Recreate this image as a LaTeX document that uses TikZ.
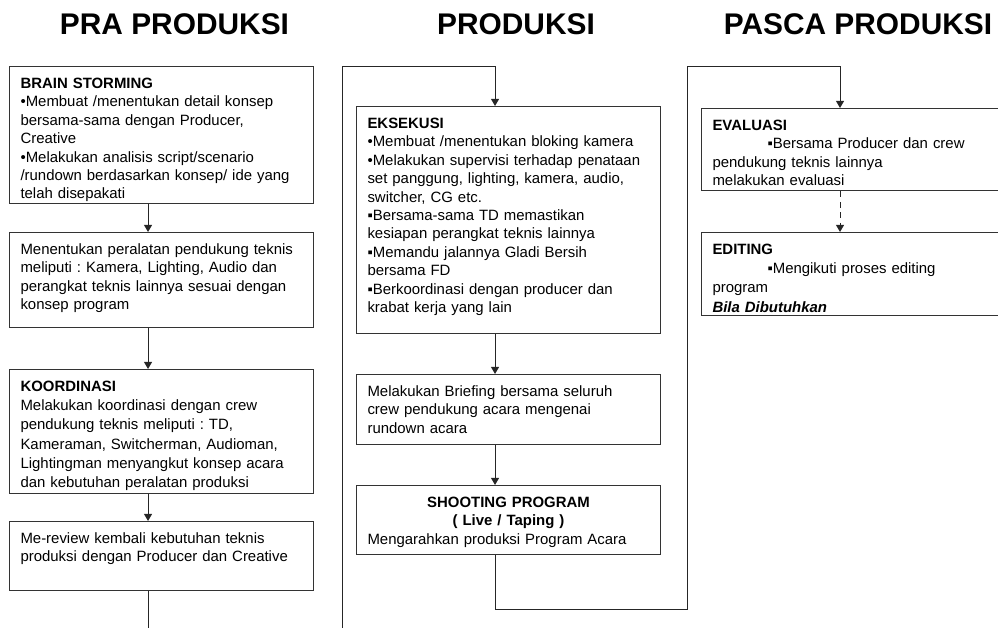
\documentclass[tikz,border=0pt]{standalone}
\usepackage{fontspec}
\setmainfont{Liberation Sans}
\usetikzlibrary{arrows.meta}
\frenchspacing

\begin{document}
\begin{tikzpicture}[
    flow/.style={-{Triangle[width=4.5pt,length=4pt]}, line width=0.55pt,
                 draw=black!85},
    stagebox/.style={draw=black!80, line width=0.6pt, anchor=north west,
                 text width=5.64cm, align=left, inner xsep=0.22cm,
                 inner ysep=0.1cm, text height=9.5pt, text depth=#1,
                 font=\fontsize{8.5}{10.5}\selectfont},
    phase/.style={font=\fontsize{17}{20}\selectfont\bfseries}
  ]
  \useasboundingbox (0,0) rectangle (19.96,-12.56);
  \clip (0,0) rectangle (19.96,-12.56);

  % Headers
  \node[phase] (pra) at (3.49, -0.48) {PRA PRODUKSI};
  \node[phase] (prod) at (10.32, -0.48) {PRODUKSI};
  \node[phase] (pasca) at (17.16, -0.48) {PASCA PRODUKSI};

  % Pra produksi
  \node[stagebox=2.21cm] (brain) at (0.18, -1.32) {\textbf{BRAIN STORMING}\\
    •Membuat /menentukan detail konsep\\
    bersama-sama dengan Producer,\\
    Creative\\
    •Melakukan analisis script/scenario\\
    /rundown berdasarkan konsep/ ide yang\\
    telah disepakati};
  \node[stagebox=1.37cm] (equip) at (0.18, -4.64) {Menentukan peralatan pendukung teknis\\
    meliputi : Kamera, Lighting, Audio dan\\
    perangkat teknis lainnya sesuai dengan\\
    konsep program};
  \node[stagebox=1.95cm, font=\fontsize{8.5}{11}\selectfont] (koord) at (0.18, -7.38) {\textbf{KOORDINASI}\\
    Melakukan koordinasi dengan crew\\
    pendukung teknis meliputi : TD,\\
    Kameraman, Switcherman, Audioman,\\
    Lightingman menyangkut konsep acara\\
    dan kebutuhan peralatan produksi};
  \node[stagebox=0.85cm] (review) at (0.18, -10.42) {Me-review kembali kebutuhan teknis\\
    produksi dengan Producer dan Creative};

  % Produksi
  \node[stagebox=4.01cm] (eksekusi) at (7.12, -2.12) {\textbf{EKSEKUSI}\\
    •Membuat /menentukan bloking kamera\\
    •Melakukan supervisi terhadap penataan\\
    set panggung, lighting, kamera, audio,\\
    switcher, CG etc.\\
    ▪Bersama-sama TD memastikan\\
    kesiapan perangkat teknis lainnya\\
    ▪Memandu jalannya Gladi Bersih\\
    bersama FD\\
    ▪Berkoordinasi dengan producer dan\\
    krabat kerja yang lain};
  \node[stagebox=0.87cm] (briefing) at (7.12, -7.48) {Melakukan Briefing bersama seluruh\\
    crew pendukung acara mengenai\\
    rundown acara};
  \node[stagebox=0.85cm] (shoot) at (7.12, -9.70) {\makebox[5.64cm]{\bfseries SHOOTING PROGRAM}\\
    \makebox[5.64cm]{\bfseries ( Live / Taping )}\\
    Mengarahkan produksi Program Acara};

  % Pasca produksi
  \node[stagebox=1.11cm] (evaluasi) at (14.02, -2.16) {\textbf{EVALUASI}\\
    \hspace*{1.1cm}▪Bersama Producer dan crew\\
    pendukung teknis lainnya\\
    melakukan evaluasi};
  \node[stagebox=1.13cm, font=\fontsize{8.5}{11}\selectfont] (editing) at (14.02, -4.64) {\textbf{EDITING}\\
    \hspace*{1.1cm}▪Mengikuti proses editing\\
    program\\
    \textbf{\textit{Bila Dibutuhkan}}};

  % Alur
  \draw[flow] ([xshift=-0.27cm]brain.south) -- ([xshift=-0.27cm]equip.north);
  \draw[flow] ([xshift=-0.27cm]equip.south) -- ([xshift=-0.27cm]koord.north);
  \draw[flow] ([xshift=-0.27cm]koord.south) -- ([xshift=-0.27cm]review.north);
  \draw[flow] ([xshift=-0.27cm]review.south) -- ++(0,-1) -| (6.85,-1.32)
    -| ([xshift=-0.27cm]eksekusi.north);
  \draw[flow] ([xshift=-0.27cm]eksekusi.south) -- ([xshift=-0.27cm]briefing.north);
  \draw[flow] ([xshift=-0.27cm]briefing.south) -- ([xshift=-0.27cm]shoot.north);
  \draw[flow] ([xshift=-0.27cm]shoot.south) |- (13.74,-12.18) -- (13.74,-1.32)
    -| ([xshift=-0.27cm]evaluasi.north);
  \draw[flow, dash pattern=on 3.5pt off 2.5pt] ([xshift=-0.27cm]evaluasi.south)
    -- ([xshift=-0.27cm]editing.north);
\end{tikzpicture}
\end{document}
